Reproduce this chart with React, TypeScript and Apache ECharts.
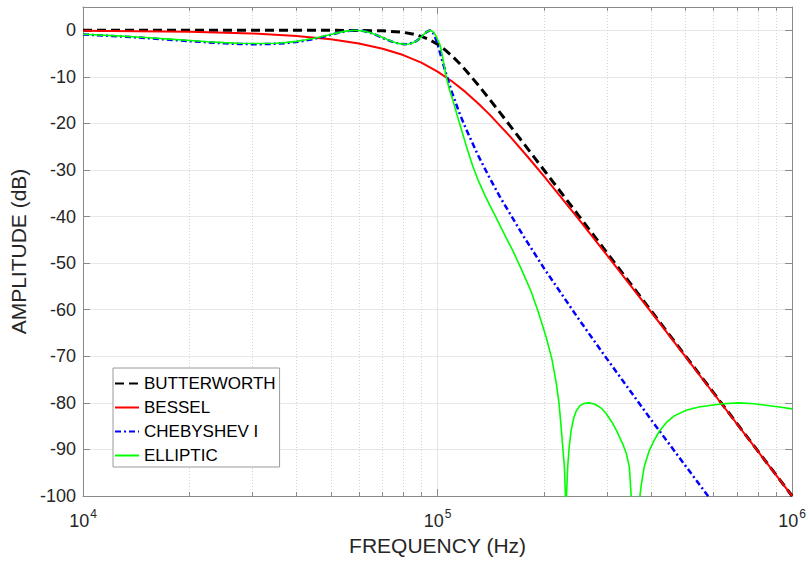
import React, { useEffect, useRef } from "react";
import * as echarts from "echarts";

// ---- Data (frequency in Hz, amplitude in dB) ----
const butterFreq = [1e4, 2e4, 3e4, 4e4, 5e4, 6e4, 7e4, 8e4, 8.5e4, 9e4, 9.5e4, 1e5, 1.05e5, 1.1e5, 1.15e5, 1.2e5, 1.3e5, 1.4e5, 1.5e5, 1.62e5, 1.75e5, 2e5, 2.5e5, 3e5, 4e5, 5e5, 6e5, 8e5, 1e6];
const butterDb = [0, 0, 0, 0, -0.01, -0.03, -0.12, -0.44, -0.78, -1.3, -2.04, -3.01, -4.2, -5.56, -7.03, -8.57, -11.7, -14.76, -17.69, -21.0, -24.32, -30.11, -39.79, -47.71, -60.21, -69.9, -77.82, -90.31, -100];

const besselFreq = [1e4, 2e4, 3e4, 4e4, 5e4, 6e4, 7e4, 8e4, 9e4, 1e5, 1.1e5, 1.2e5, 1.3e5, 1.4e5, 1.6e5, 1.8e5, 2e5, 2.5e5, 3e5, 4e5, 5e5, 6e5, 8e5, 1e6];
const besselDb = [-0.08, -0.3, -0.68, -1.22, -1.94, -2.84, -3.96, -5.32, -6.96, -8.86, -10.99, -13.28, -15.66, -18.06, -22.79, -27.26, -31.43, -40.57, -48.23, -60.47, -70.06, -77.94, -90.37, -100.04];

const chebFreq = [1e4, 1.25e4, 1.5e4, 1.75e4, 2e4, 2.25e4, 2.5e4, 2.75e4, 3.09e4, 3.5e4, 3.75e4, 4e4, 4.25e4, 4.5e4, 4.75e4, 5e4, 5.25e4, 5.5e4, 5.88e4, 6.2e4, 6.5e4, 6.75e4, 7e4, 7.25e4, 7.5e4, 7.8e4, 8.09e4, 8.3e4, 8.5e4, 8.75e4, 9e4, 9.3e4, 9.51e4, 9.7e4, 9.9e4, 1e5, 1.015e5, 1.03e5, 1.06e5, 1.1e5, 1.15e5, 1.2e5, 1.3e5, 1.4e5, 1.5e5, 1.75e5, 2e5, 2.5e5, 3e5, 4e5, 5e5, 6e5];
const chebDb = [-0.9, -1.28, -1.66, -2.02, -2.33, -2.59, -2.8, -2.93, -3.0, -2.9, -2.73, -2.5, -2.19, -1.82, -1.4, -0.96, -0.55, -0.22, 0, -0.17, -0.6, -1.09, -1.61, -2.1, -2.53, -2.88, -3.0, -2.92, -2.71, -2.21, -1.45, -0.39, 0, -0.46, -1.97, -3.0, -4.69, -6.42, -9.69, -13.5, -17.6, -21.0, -26.8, -31.6, -35.8, -44.3, -51.2, -62.0, -70.5, -83.6, -93.5, -101.6];

const ellipFreq = [1e4, 1.25e4, 1.5e4, 1.75e4, 2e4, 2.25e4, 2.5e4, 2.75e4, 3.1e4, 3.5e4, 3.75e4, 4e4, 4.25e4, 4.5e4, 4.75e4, 5e4, 5.25e4, 5.5e4, 5.9e4, 6.2e4, 6.5e4, 6.75e4, 7e4, 7.25e4, 7.5e4, 7.8e4, 8.1e4, 8.3e4, 8.5e4, 8.75e4, 9e4, 9.3e4, 9.55e4, 9.75e4, 9.9e4, 1e5, 1.015e5, 1.03e5, 1.045e5, 1.058e5, 1.08e5, 1.104e5, 1.135e5, 1.166e5, 1.21e5, 1.257e5, 1.305e5, 1.357e5, 1.411e5, 1.466e5, 1.55e5, 1.63e5, 1.73e5, 1.836e5, 1.93e5, 2.024e5, 2.1e5, 2.16e5, 2.2e5, 2.231e5, 2.26e5, 2.279e5, 2.294e5, 2.302e5, 2.31e5, 2.328e5, 2.35e5, 2.38e5, 2.42e5, 2.459e5, 2.52e5, 2.6e5, 2.68e5, 2.78e5, 2.9e5, 2.987e5, 3.1e5, 3.2e5, 3.327e5, 3.41e5, 3.474e5, 3.52e5, 3.566e5, 3.612e5, 3.659e5, 3.707e5, 3.756e5, 3.83e5, 3.956e5, 4.085e5, 4.222e5, 4.42e5, 4.65e5, 5.02e5, 5.46e5, 6.36e5, 7.09e5, 7.8e5, 8.43e5, 9.2e5, 1e6];
const ellipDb = [-0.85, -1.2, -1.55, -1.9, -2.2, -2.45, -2.65, -2.78, -2.85, -2.78, -2.6, -2.38, -2.05, -1.7, -1.3, -0.9, -0.5, -0.18, 0, -0.18, -0.6, -1.05, -1.55, -2.05, -2.5, -2.87, -3.0, -2.93, -2.72, -2.2, -1.4, -0.35, 0, -0.45, -1.2, -2.0, -3.0, -5.2, -7.8, -10.0, -12.7, -15.0, -18.2, -21.2, -25.3, -29.2, -32.4, -35.3, -37.9, -40.4, -44.1, -47.3, -51.6, -56.1, -60.8, -65.9, -70.5, -75.6, -80.0, -85.2, -90.5, -93.8, -100, -140, -100, -93.8, -89.5, -86.0, -83.3, -81.8, -80.6, -80.1, -80.0, -80.3, -81.2, -82.3, -84.1, -86.0, -88.8, -91.0, -93.8, -100.5, -108, -140, -108, -101, -97.5, -93.6, -90.2, -88.0, -86.1, -84.2, -82.8, -81.6, -80.9, -80.2, -80.0, -80.2, -80.5, -80.9, -81.3];

const minorFreqs = [2e4, 3e4, 4e4, 5e4, 6e4, 7e4, 8e4, 9e4, 2e5, 3e5, 4e5, 5e5, 6e5, 7e5, 8e5, 9e5];

const seriesNames = ["BUTTERWORTH", "BESSEL", "CHEBYSHEV I", "ELLIPTIC"];

const zip = (xs: number[], ys: number[]) => xs.map((x, i) => [x, ys[i]]);

const FONT = "'Liberation Sans', Arial, Helvetica, sans-serif";
const TXT = "#262626";
const AX = "#8a8a8a";

export default function App() {
  const ref = useRef<HTMLDivElement>(null);
  useEffect(() => {
    if (!ref.current) return;
    const chart = echarts.init(ref.current, undefined, { renderer: "svg" });
    const lineBase = {
      type: "line",
      showSymbol: false,
      symbol: "none",
      clip: true,
      z: 3,
      smooth: false,
    };
    chart.setOption({
      animation: false,
      backgroundColor: "#ffffff",
      textStyle: { fontFamily: FONT },
      grid: { left: 83, right: 16, top: 7, bottom: 67, show: false },
      legend: {
        data: seriesNames,
        orient: "vertical",
        left: 113,
        top: 368,
        backgroundColor: "#ffffff",
        borderColor: "#9a9a9a",
        borderWidth: 1,
        borderRadius: 0,
        padding: [7, 4, 3, 1],
        itemWidth: 24,
        itemHeight: 16,
        itemGap: 7,
        itemStyle: { opacity: 0, borderWidth: 0 },
        textStyle: { fontSize: 17, color: "#000000", fontFamily: FONT },
      },
      xAxis: [
        {
          type: "log",
          logBase: 10,
          min: 1e4,
          max: 1e6,
          name: "FREQUENCY (Hz)",
          nameLocation: "middle",
          nameGap: 34,
          nameTextStyle: { fontSize: 21, color: TXT, fontFamily: FONT },
          axisLine: { show: true, onZero: false, lineStyle: { color: AX, width: 1 } },
          axisTick: { show: true, inside: true, length: 7, lineStyle: { color: AX } },
          splitLine: { show: true, lineStyle: { color: "#e3e3e3", width: 1 } },
          axisLabel: {
            margin: 12,
            color: TXT,
            formatter: (v: number) => `{b|10}{s|${Math.round(Math.log10(v))}}`,
            rich: {
              b: { fontSize: 18, color: TXT, fontFamily: FONT, verticalAlign: "bottom", lineHeight: 22 },
              s: { fontSize: 12, color: TXT, fontFamily: FONT, verticalAlign: "top", lineHeight: 22, padding: [0, 0, 0, 1] },
            },
          },
        },
        {
          type: "log",
          logBase: 10,
          min: 1e4,
          max: 1e6,
          position: "top",
          axisLine: { show: true, onZero: false, lineStyle: { color: AX, width: 1 } },
          axisTick: { show: true, inside: true, length: 7, lineStyle: { color: AX } },
          splitLine: { show: false },
          axisLabel: { show: false },
        },
      ],
      yAxis: [
        {
          type: "value",
          min: -100,
          max: 5,
          interval: 10,
          name: "AMPLITUDE (dB)",
          nameLocation: "middle",
          nameGap: 47,
          nameTextStyle: { fontSize: 21, color: TXT, fontFamily: FONT },
          axisLine: { show: true, onZero: false, lineStyle: { color: AX, width: 1 } },
          axisTick: { show: true, inside: true, length: 7, lineStyle: { color: AX } },
          splitLine: { show: true, lineStyle: { color: "#e8e8e8", width: 1 } },
          axisLabel: { fontSize: 18, color: TXT, margin: 7, showMaxLabel: false, fontFamily: FONT },
        },
        {
          type: "value",
          min: -100,
          max: 5,
          interval: 10,
          position: "right",
          axisLine: { show: true, onZero: false, lineStyle: { color: AX, width: 1 } },
          axisTick: { show: true, inside: true, length: 7, lineStyle: { color: AX } },
          splitLine: { show: false },
          axisLabel: { show: false },
        },
      ],
      series: [
        {
          type: "line",
          name: "minor",
          data: [],
          silent: true,
          markLine: {
            silent: true,
            symbol: ["none", "none"],
            label: { show: false },
            z: 1,
            animation: false,
            data: [
              ...minorFreqs.map((f) => ({ xAxis: f, lineStyle: { type: [1, 2], color: "#d2d2d2", width: 1 } })),
              ...minorFreqs.map((f) => [
                { coord: [f, -100], lineStyle: { type: "solid", color: AX, width: 1 } },
                { coord: [f, -99.15] },
              ]),
              ...minorFreqs.map((f) => [
                { coord: [f, 5], lineStyle: { type: "solid", color: AX, width: 1 } },
                { coord: [f, 4.15] },
              ]),
            ],
          },
        },
        {
          ...lineBase,
          name: seriesNames[0],
          data: zip(butterFreq, butterDb),
          lineStyle: { color: "#000000", width: 3, type: [9, 5], cap: "butt" },
          itemStyle: { color: "#000000" },
        },
        {
          ...lineBase,
          name: seriesNames[1],
          data: zip(besselFreq, besselDb),
          lineStyle: { color: "#ff0000", width: 2, type: "solid" },
          itemStyle: { color: "#ff0000" },
        },
        {
          ...lineBase,
          name: seriesNames[2],
          data: zip(chebFreq, chebDb),
          lineStyle: { color: "#0000ff", width: 2.5, type: [6, 3, 2, 3], cap: "butt" },
          itemStyle: { color: "#0000ff" },
        },
        {
          ...lineBase,
          name: seriesNames[3],
          data: zip(ellipFreq, ellipDb),
          lineStyle: { color: "#00ff00", width: 1.6, type: "solid" },
          itemStyle: { color: "#00ff00" },
        },
      ],
    });
    return () => chart.dispose();
  }, []);
  return (
    <div
      ref={ref}
      style={{ position: "absolute", left: 0, top: 0, width: 809, height: 563, background: "#fff" }}
    />
  );
}
